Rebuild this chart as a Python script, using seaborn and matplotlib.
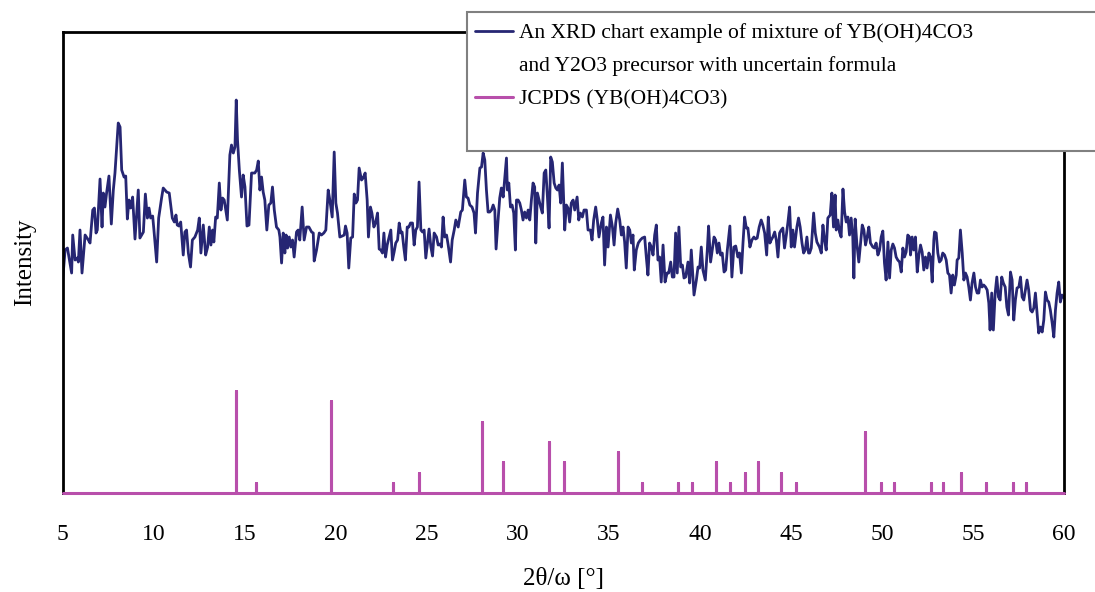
import numpy as np
import pandas as pd
import matplotlib
matplotlib.use("Agg")
import matplotlib.pyplot as plt
from matplotlib.lines import Line2D
from matplotlib.patches import Rectangle
import seaborn as sns

# ---- measured XRD pattern (2theta in degrees, intensity in a.u.) ----
xrd_2theta = [
    5.00, 5.14, 5.27, 5.50, 5.56, 5.69, 5.81, 5.87, 5.96, 6.07, 6.24, 6.42, 6.51, 6.66, 6.75, 6.84, 6.91,
    7.06, 7.17, 7.24, 7.33, 7.42, 7.55, 7.68, 7.79, 7.88, 8.06, 8.16, 8.25, 8.38, 8.47, 8.56, 8.65, 8.74,
    8.85, 8.98, 9.16, 9.25, 9.44, 9.55, 9.66, 9.75, 9.84, 9.95, 10.02, 10.17, 10.28, 10.44, 10.53, 10.72,
    10.86, 11.03, 11.14, 11.23, 11.30, 11.39, 11.49, 11.63,
    11.72, 11.81, 11.91, 12.03, 12.13, 12.27, 12.42, 12.51, 12.60, 12.73, 12.86, 12.97, 13.06, 13.15, 13.24,
    13.31, 13.41, 13.50, 13.61, 13.70, 13.79, 13.88, 14.05, 14.19, 14.28, 14.38, 14.47, 14.54, 14.61, 14.71,
    14.83, 14.92, 15.02, 15.13, 15.24, 15.38, 15.56, 15.66, 15.75, 15.84, 15.93, 16.02, 16.11, 16.22, 16.33,
    16.44, 16.53, 16.63, 16.75, 16.88, 16.94, 17.03, 17.12, 17.21, 17.28, 17.36, 17.45, 17.54, 17.63, 17.72,
    17.85, 17.94, 18.03, 18.16, 18.27, 18.40, 18.53, 18.68, 18.77,
    18.82, 18.95, 19.10, 19.22, 19.35, 19.46, 19.59, 19.68, 19.81, 19.92, 20.01, 20.10, 20.23, 20.36, 20.47,
    20.54, 20.63, 20.72, 20.83, 20.93, 21.02, 21.11, 21.20, 21.29, 21.42, 21.51, 21.62, 21.73, 21.80, 21.91,
    21.99, 22.10, 22.19, 22.30, 22.39, 22.48, 22.57, 22.65, 22.74, 22.83, 22.94, 23.03, 23.12, 23.21, 23.30,
    23.40, 23.49, 23.58, 23.65, 23.74, 23.83, 23.93, 24.02, 24.11, 24.22, 24.31, 24.40, 24.49, 24.58, 24.68,
    24.77, 24.86, 24.95, 25.04, 25.13, 25.23, 25.32, 25.41,
    25.54, 25.63, 25.72, 25.81, 25.90, 25.99, 26.09, 26.18, 26.31, 26.40, 26.51, 26.60, 26.73, 26.87, 26.96,
    27.09, 27.18, 27.27, 27.37, 27.49, 27.60, 27.68, 27.79, 27.92, 28.01, 28.10, 28.19, 28.28, 28.37, 28.46,
    28.56, 28.65, 28.74, 28.81, 28.92, 29.01, 29.10, 29.20, 29.29, 29.38, 29.43, 29.51, 29.60, 29.69, 29.78,
    29.87, 29.93, 30.02, 30.11, 30.20, 30.29, 30.38, 30.48, 30.57, 30.66, 30.75, 30.84, 30.93, 30.99, 31.08,
    31.17, 31.26, 31.35, 31.45, 31.54, 31.63, 31.72, 31.81, 31.90, 32.00, 32.09, 32.18, 32.27, 32.36, 32.45,
    32.58, 32.67, 32.76, 32.85, 32.94, 33.04, 33.13, 33.26, 33.35, 33.44, 33.55, 33.64, 33.77, 33.86, 33.99,
    34.08, 34.17, 34.28, 34.37, 34.46, 34.59, 34.68, 34.77, 34.87, 34.96, 35.09, 35.20, 35.29, 35.38, 35.49,
    35.60, 35.69, 35.78, 35.87, 35.96, 36.06, 36.15, 36.24, 36.33, 36.40, 36.51, 36.62, 36.73, 36.84, 36.97,
    37.06, 37.15, 37.24, 37.34, 37.43, 37.52, 37.61, 37.70, 37.79, 37.88, 37.98, 38.09, 38.20, 38.29, 38.40,
    38.49, 38.58, 38.67, 38.76, 38.85, 38.95, 39.04, 39.13, 39.22,
    39.35, 39.44, 39.53, 39.68, 39.81, 39.90, 39.99, 40.08, 40.17, 40.30, 40.41, 40.48, 40.59, 40.68, 40.78,
    40.87, 40.96, 41.05, 41.14, 41.23, 41.33, 41.42, 41.51, 41.65, 41.76, 41.87, 41.97, 42.09, 42.18, 42.28,
    42.37, 42.46, 42.55, 42.64, 42.75, 42.86, 42.97, 43.06, 43.15, 43.26, 43.37, 43.46, 43.56, 43.67, 43.76,
    43.85, 43.92, 44.01, 44.11, 44.20, 44.29, 44.38, 44.47, 44.56, 44.65, 44.75, 44.84, 44.93, 45.02, 45.11,
    45.20, 45.33, 45.42, 45.51, 45.61, 45.70, 45.79, 45.88, 45.97,
    46.03, 46.12, 46.25, 46.34, 46.43, 46.57, 46.67, 46.76, 46.85, 46.94, 47.03, 47.16, 47.25, 47.34, 47.43,
    47.49, 47.58, 47.67, 47.76, 47.86, 47.95, 48.04, 48.13, 48.22, 48.31, 48.40, 48.46, 48.53, 48.62, 48.73,
    48.82, 48.92, 49.01, 49.10, 49.19, 49.28, 49.37, 49.50, 49.59, 49.68, 49.78, 49.87, 49.96, 50.05, 50.14,
    50.23, 50.33, 50.42, 50.51, 50.60, 50.69, 50.78, 50.87, 50.97, 51.06, 51.15, 51.24, 51.33, 51.42, 51.51,
    51.57, 51.66, 51.75, 51.84, 51.94, 52.03, 52.12, 52.21, 52.30, 52.39, 52.48, 52.58, 52.67, 52.76, 52.85,
    52.89, 52.98, 53.07, 53.16, 53.25, 53.34, 53.44, 53.53, 53.62, 53.71, 53.80, 53.89, 53.98, 54.08, 54.13,
    54.22, 54.31, 54.41, 54.50, 54.59, 54.68, 54.77, 54.86, 54.95, 55.05, 55.14, 55.23, 55.32, 55.41, 55.50,
    55.59, 55.69, 55.78, 55.87, 55.94, 56.03, 56.12, 56.22, 56.31, 56.40, 56.49, 56.58, 56.67, 56.77, 56.86,
    56.95, 57.06, 57.15, 57.24, 57.33, 57.42, 57.52, 57.61, 57.70, 57.79, 57.88, 57.97, 58.06, 58.16, 58.25,
    58.34, 58.43, 58.52, 58.61, 58.70, 58.80, 58.89, 58.98, 59.07, 59.16, 59.25, 59.35, 59.44, 59.53, 59.62,
    59.71, 59.80, 59.89, 60.00,
]
xrd_intensity = [
    211, 243, 245, 220, 258, 233, 235, 231, 263, 220, 258, 253, 250, 283, 285, 260, 263,
    314, 266, 300, 286, 300, 317, 269, 303, 320, 370, 366, 323, 316, 317, 274, 293, 285,
    296, 254, 303, 255, 261, 299, 275, 285, 275, 277, 263, 231, 275, 295, 305, 301,
    300, 275, 271, 278, 268, 267, 271, 238,
    261, 263, 240, 226, 253, 256, 263, 275, 240, 268, 238, 246, 266, 248, 263,
    251, 276, 275, 310, 283, 295, 293, 273, 338, 348, 340, 346, 393, 353, 323,
    296, 318, 306, 267, 268, 320, 320, 323, 332, 303, 316, 301, 293, 263, 288,
    290, 306, 283, 266, 263, 256, 230, 260, 240, 258, 245, 256, 246, 253, 236,
    261, 263, 253, 286, 253, 266, 266, 261, 260,
    232, 243, 260, 258, 260, 263, 303, 293, 276, 341, 290, 280, 256, 257, 258,
    267, 260, 225, 255, 256, 299, 290, 293, 325, 313, 315, 320, 293, 256, 286,
    280, 266, 270, 280, 244, 243, 240, 260, 236, 248, 256, 263, 233, 241, 250,
    253, 270, 260, 261, 246, 233, 266, 266, 270, 270, 248, 263, 266, 311, 263,
    261, 263, 235, 250, 264, 246, 237, 260,
    256, 248, 249, 246, 276, 256, 258, 248, 231, 253, 263, 273, 266, 281, 283,
    313, 296, 295, 288, 286, 280, 260, 300, 325, 326, 340, 333, 303, 281, 281,
    283, 288, 283, 244, 273, 295, 305, 296, 316, 335, 303, 310, 286, 288, 280,
    243, 293, 293, 290, 283, 273, 281, 275, 283, 273, 293, 310, 306, 250, 300,
    293, 286, 280, 320, 323, 296, 265, 336, 331, 310, 305, 303, 308, 290, 330,
    263, 288, 285, 271, 290, 293, 283, 296, 273, 280, 276, 283, 283, 263, 263,
    253, 273, 286, 273, 256, 270, 276, 228, 266, 246, 278, 266, 248, 270, 284,
    273, 258, 266, 251, 225, 266, 263, 250, 258, 223, 243, 250, 253, 255, 256,
    236, 218, 250, 246, 238, 258, 268, 233, 236, 211, 248, 211, 220, 220, 231,
    216, 216, 260, 220, 266, 226, 228, 215, 216,
    231, 210, 243, 198, 213, 226, 225, 246, 223, 213, 243, 267, 231, 243, 256,
    253, 240, 250, 238, 240, 221, 223, 243, 267, 216, 246, 247, 236, 240, 220,
    250, 276, 265, 265, 246, 253, 256, 254, 255, 266, 273, 268, 260, 238, 276,
    250, 253, 256, 261, 253, 236, 260, 263, 265, 245, 258, 271, 286, 246, 263,
    246, 266, 275, 266, 250, 240, 243, 256, 240,
    240, 245, 280, 260, 251, 246, 240, 268, 253, 243, 275, 278, 300, 266, 298,
    263, 273, 261, 256, 304, 281, 271, 276, 258, 275, 256, 215, 274, 250, 231,
    248, 268, 263, 248, 256, 266, 250, 246, 245, 250, 238, 243, 256, 262, 230,
    213, 251, 215, 243, 249, 245, 236, 233, 231, 221, 245, 236, 241, 258, 256,
    238, 256, 243, 256, 221, 238, 248, 241, 223, 236, 225, 240, 236, 211, 253,
    261, 260, 240, 231, 233, 240, 238, 233, 220, 218, 200, 218, 208, 218, 233,
    235, 263, 240, 213, 220, 216, 206, 193, 210, 220, 206, 200, 200, 213, 206,
    208, 206, 203, 190, 163, 200, 163, 200, 216, 196, 193, 216, 210, 206, 186,
    178, 221, 213, 173, 193, 205, 206, 216, 196, 193, 203, 213, 203, 183, 181,
    185, 200, 180, 160, 166, 161, 173, 201, 193, 191, 183, 170, 156, 183, 200,
    211, 191, 198, 195,
]

# ---- JCPDS reference lines (YB(OH)4CO3) ----
jcpds_2theta = [14.54, 15.64, 19.72, 23.16, 24.55, 28.04, 29.19, 31.72, 32.54, 35.50,
                36.82, 38.80, 39.55, 40.88, 41.64, 42.46, 43.21, 44.45, 45.30, 49.05,
                49.94, 50.65, 52.70, 53.38, 54.36, 55.70, 57.20, 57.92]
jcpds_height = [102, 10, 92, 10, 20, 71, 31, 51, 31, 41,
                10, 10, 10, 31, 10, 20, 31, 20, 10, 61,
                10, 10, 10, 10, 20, 10, 10, 10]

legend_lines = ["An XRD chart example of mixture of YB(OH)4CO3",
                "and Y2O3 precursor with uncertain formula",
                "JCPDS (YB(OH)4CO3)"]

df_xrd = pd.DataFrame({"two_theta": xrd_2theta, "intensity": xrd_intensity})

# stick pattern as one continuous line along the baseline
stick_x, stick_y = [5.0], [0.0]
for pos, h in zip(jcpds_2theta, jcpds_height):
    stick_x += [pos, pos, pos]
    stick_y += [0.0, h, 0.0]
stick_x.append(60.0)
stick_y.append(0.0)
df_jcpds = pd.DataFrame({"two_theta": stick_x, "intensity": stick_y})

sns.set_theme(style="white")
plt.rcParams['font.family'] = ['Liberation Serif', 'DejaVu Serif']

navy = "#262673"
orchid = "#b84fab"

fig = plt.figure(figsize=(10.95, 5.92), dpi=100)
ax = fig.add_axes([0.0571, 0.1672, 0.9146, 0.7787])

sns.lineplot(data=df_xrd, x="two_theta", y="intensity", ax=ax, color=navy,
             linewidth=2.0, sort=False, estimator=None)
sns.lineplot(data=df_jcpds, x="two_theta", y="intensity", ax=ax, color=orchid,
             linewidth=2.2, sort=False, estimator=None, zorder=3, clip_on=False)

ax.set_xlim(5, 60)
ax.set_ylim(0, 461)
ax.set_xticks(range(5, 61, 5))
ax.set_yticks([])
ax.tick_params(axis="x", direction="in", length=6, width=1, color="black",
               labelsize=17, pad=22, labelcolor="black")
for sp in ax.spines.values():
    sp.set_color("black")
    sp.set_linewidth(2)

ax.set_xlabel("2θ/ω [°]", fontsize=18, labelpad=17, color="black")
ax.set_ylabel("Intensity", fontsize=18, labelpad=19, color="black")

# legend box (runs off the right edge of the figure)
fig.patches.append(Rectangle((467 / 1095, 1 - 151 / 592), 0.62, 139 / 592,
                             transform=fig.transFigure, facecolor="white",
                             edgecolor="#808080", linewidth=1.5, zorder=1))
handles = [Line2D([], [], color=navy, linewidth=2.0),
           Line2D([], [], color="none"),
           Line2D([], [], color=orchid, linewidth=2.2)]
leg = fig.legend(handles, legend_lines, loc="upper left",
                 bbox_to_anchor=(475 / 1095, 1 - 23 / 592), frameon=False,
                 fontsize=15.5, handlelength=1.75, handletextpad=0.3,
                 borderpad=0, borderaxespad=0, labelspacing=0.62)
for t in leg.get_texts():
    t.set_color("black")

fig.savefig("out.png", dpi=100)
